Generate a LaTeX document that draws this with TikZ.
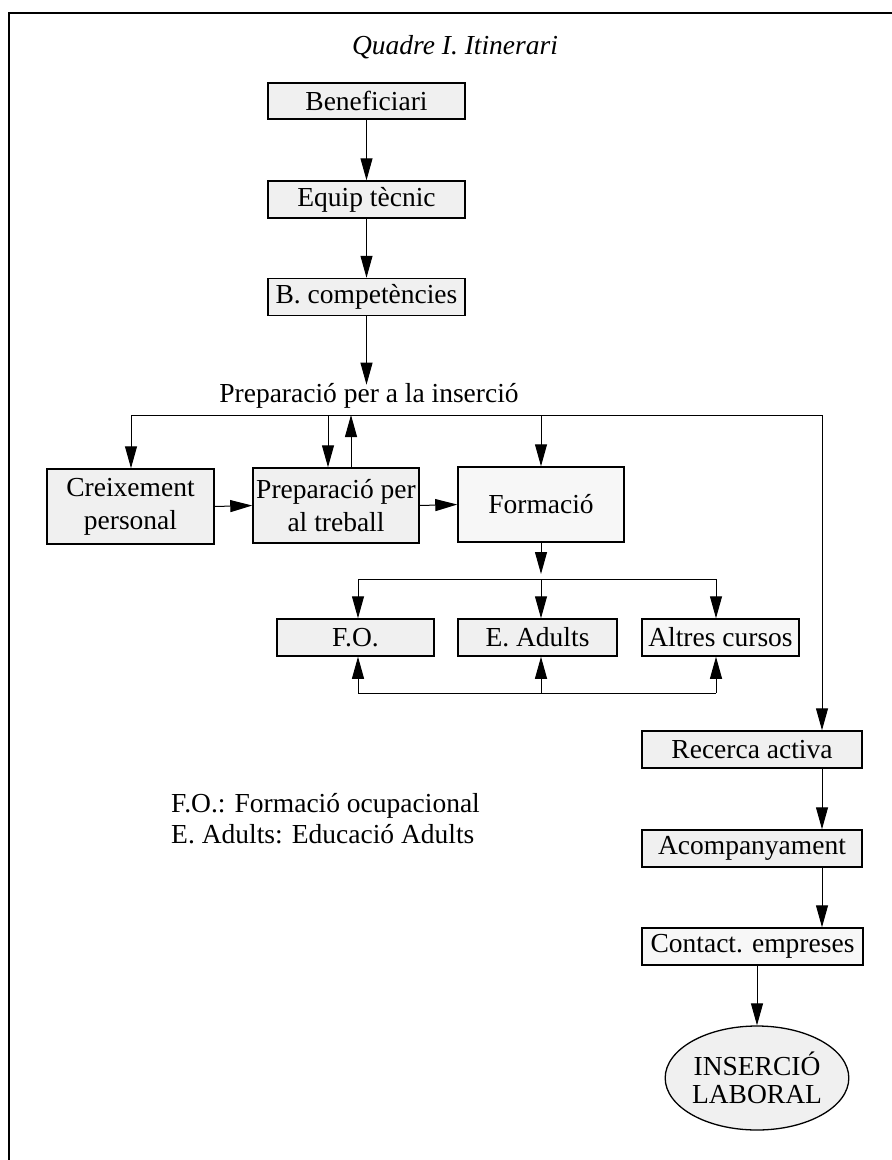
\documentclass[tikz,border=0pt]{standalone}
\usepackage{fontspec}
\setmainfont{Liberation Serif}
\usetikzlibrary{arrows.meta,shapes.geometric}
\tikzset{
  txt/.style={font=\fontsize{27.5}{33}\selectfont, inner sep=0pt},
  boxA/.style={txt, draw, line width=1.5pt, fill=black!6, align=center, minimum height=37pt},
  conn/.style={line width=1pt},
  arr/.style={conn, -{Triangle[length=22pt,width=12pt]}},
  frameline/.style={line width=1.3pt}
}
\begin{document}
\begin{tikzpicture}[x=1pt,y=-1pt]
\useasboundingbox (0,0) rectangle (892,1160);
% frame
\coordinate (fTL) at (9,13);
\coordinate (fTR) at (892,13);
\coordinate (fBL) at (9,1160);
\draw[frameline] (fTR) -- (fTL) -- (fBL);
% title
\node[txt, font=\fontsize{27.5}{33}\selectfont\itshape] (title) at (455,47) {Quadre I. Itinerari};
% top column
\node[boxA, minimum width=197pt, minimum height=36pt] (ben) at (366.5,101) {Beneficiari};
\node[boxA, minimum width=197pt] (equip) at (366.5,199.5) {Equip tècnic};
\node[boxA, minimum width=197pt] (bcomp) at (366.5,297) {B. competències};
\node[txt, anchor=base] (ins) at (369,402) {Preparació per a la inserció};
\draw[arr] (ben.south) -- (equip.north);
\draw[arr] (equip.south) -- (bcomp.north);
\draw[arr] (bcomp.south) -- ([yshift=-2pt]bcomp.south |- ins.north);
% distribution line
\coordinate (jL) at (131,415);
\coordinate (jR) at (822,415);
\draw[conn] (jL) -- (jR);
% second row
\node[boxA, minimum width=167pt, minimum height=75pt] (creix) at (130.5,506.5) {Creixement\\personal};
\node[boxA, minimum width=166pt, minimum height=75pt] (prept) at (336,505.5) {Preparació per\\al treball};
\node[boxA, minimum width=166pt, minimum height=75pt, fill=black!3] (form) at (541,504.5) {Formació};
\draw[arr] (jL) -- (jL |- creix.north);
\draw[arr] ([xshift=-8pt]prept.north |- jL) -- ([xshift=-8pt]prept.north);
\draw[arr] ([xshift=15pt]prept.north) -- ([xshift=15pt]prept.north |- jL);
\draw[arr] (form.north |- jL) -- (form.north);
\draw[arr] (creix.east) -- (prept.west);
\draw[arr] (prept.east) -- (form.west);
% sub row
\coordinate (sL) at (358,579);
\coordinate (sM) at (541,579);
\coordinate (sR) at (716,579);
\coordinate (bL) at (358,693);
\coordinate (bM) at (541,693);
\coordinate (bR) at (716,693);
\node[boxA, minimum width=157pt] (fo) at (355.5,637.5) {F.O.};
\node[boxA, minimum width=159pt] (ea) at (537.5,637.5) {E. Adults};
\node[boxA, minimum width=157pt, fill=black!3] (altres) at (720.5,637.5) {Altres cursos};
\draw[arr, shorten >=5pt] (form.south) -- (sM);
\draw[conn] (sL) -- (sR);
\draw[arr] (sL) -- (sL |- fo.north);
\draw[arr] (sM) -- (sM |- ea.north);
\draw[arr] (sR) -- (sR |- altres.north);
\draw[conn] (bL) -- (bR);
\draw[arr] (bL) -- (bL |- fo.south);
\draw[arr] (bM) -- (bM |- ea.south);
\draw[arr] (bR) -- (bR |- altres.south);
% legend
\node[txt, anchor=base west] (legA) at (171,812) {F.O.: Formació ocupacional};
\node[txt, anchor=base west] (legB) at (171,843) {E. Adults: Educació Adults};
% right column
\node[boxA, minimum width=220pt] (rec) at (752,749.5) {Recerca activa};
\node[boxA, minimum width=220pt] (acomp) at (752,848.5) {Acompanyament};
\node[boxA, minimum width=221pt, fill=black!3] (cont) at (752.5,946.5) {Contact. empreses};
\node[txt, draw, line width=1.3pt, fill=black!6, ellipse, minimum width=182pt, minimum height=104pt, align=center, font=\fontsize{27.5}{28}\selectfont] (lab) at (757,1078) {INSERCIÓ\\LABORAL};
\draw[arr] (jR) -- (jR |- rec.north);
\draw[arr] (rec.south -| jR) -- (acomp.north -| jR);
\draw[arr] (acomp.south -| jR) -- (cont.north -| jR);
\draw[arr] (cont.south -| lab.north) -- (lab.north);
\end{tikzpicture}
\end{document}
